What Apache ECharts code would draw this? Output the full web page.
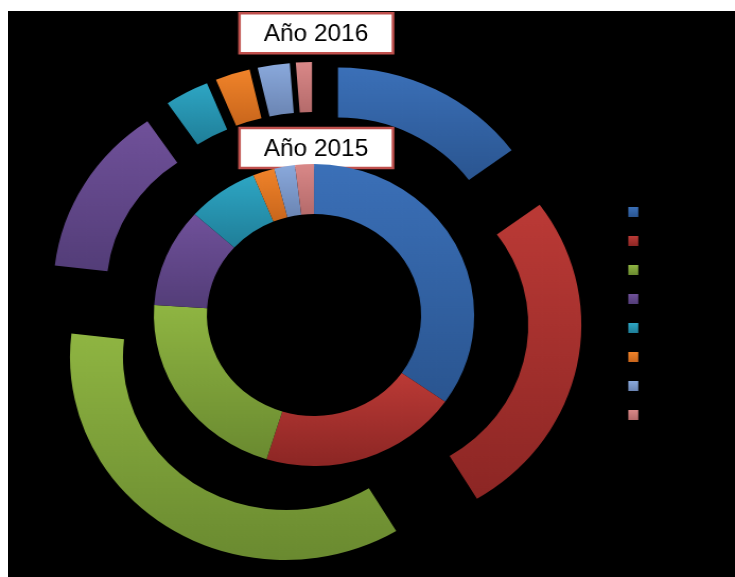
<!DOCTYPE html>
<html>
<head>
<meta charset="utf-8">
<script src="https://cdn.jsdelivr.net/npm/echarts@6/dist/echarts.min.js"></script>
<style>
  html, body { margin: 0; padding: 0; background: #ffffff; width: 735px; height: 577px; overflow: hidden; }
  #bg { position: absolute; left: 8px; top: 11px; width: 727px; height: 566px; background: #000000; }
  #chart { position: absolute; left: 0; top: 0; width: 693px; height: 577px; transform-origin: 0 0; transform: scaleX(1.0606); }
</style>
</head>
<body>
<div id="bg"></div>
<div id="chart"></div>
<script>
// Data
const categories = ['Serie 1', 'Serie 2', 'Serie 3', 'Serie 4', 'Serie 5', 'Serie 6', 'Serie 7', 'Serie 8'];
const values2015 = [34.8, 20.1, 21.3, 10.6, 7.2, 2.2, 2.1, 1.9];
const values2016 = [14.9, 26.4, 35.4, 13.6, 3.3, 2.6, 2.4, 1.2];
const ringLabels = ['Año 2015', 'Año 2016'];

// Styles
const gradTop = ['#3b70b8', '#bb3a36', '#8fb542', '#70519a', '#2ea6c4', '#f0832a', '#8aa9dc', '#d98888'];
const gradBot = ['#2a5590', '#8c2624', '#6a8a30', '#533d78', '#1f7e98', '#c9661c', '#6b85b3', '#b56b6b'];

function grad(i) {
  return { type: 'linear', x: 0, y: 0, x2: 0, y2: 1,
    colorStops: [{ offset: 0, color: gradTop[i] }, { offset: 1, color: gradBot[i] }] };
}
function makeData(vals, selected) {
  return vals.map((v, i) => ({
    name: categories[i], value: v, selected: selected,
    itemStyle: { color: grad(i) },
    select: { itemStyle: { color: grad(i) } }
  }));
}

const S = 1.0606;
const cx = 314 / S, cy = 315;

function box(y, text) {
  return {
    type: 'group', z: 100,
    children: [
      { type: 'rect', shape: { x: 239.5 / S, y: y, width: 153.5 / S, height: 40 },
        style: { fill: '#ffffff', stroke: '#c0504d', lineWidth: 2.5 } },
      { type: 'text', x: 316 / S, y: y + 21.5,
        style: { text: text, fill: '#000000', font: '23px "Liberation Sans", Arial, sans-serif', align: 'center', verticalAlign: 'middle' } }
    ]
  };
}

const chart = echarts.init(document.getElementById('chart'), null, { renderer: 'canvas' });
chart.setOption({
  animation: false,
  backgroundColor: 'transparent',
  legend: {
    orient: 'vertical',
    left: 628.3 / S, top: 207,
    padding: 0,
    itemWidth: 10 / S, itemHeight: 10, itemGap: 19,
    icon: 'rect',
    data: categories,
    formatter: function () { return ''; },
    textStyle: { fontSize: 10, lineHeight: 10, color: '#000' },
    selectedMode: false
  },
  graphic: [ box(13.3, ringLabels[1]), box(128, ringLabels[0]) ],
  series: [
    {
      name: ringLabels[0], type: 'pie',
      center: [cx, cy], radius: [101, 151],
      startAngle: 90, clockwise: true,
      label: { show: false }, labelLine: { show: false },
      emphasis: { disabled: true },
      data: makeData(values2015, false)
    },
    {
      name: ringLabels[1], type: 'pie',
      center: [cx, cy], radius: [153, 203],
      startAngle: 90, clockwise: true,
      selectedMode: 'multiple', selectedOffset: 50,
      label: { show: false }, labelLine: { show: false },
      emphasis: { disabled: true },
      data: makeData(values2016, true)
    }
  ]
});
</script>
</body>
</html>
